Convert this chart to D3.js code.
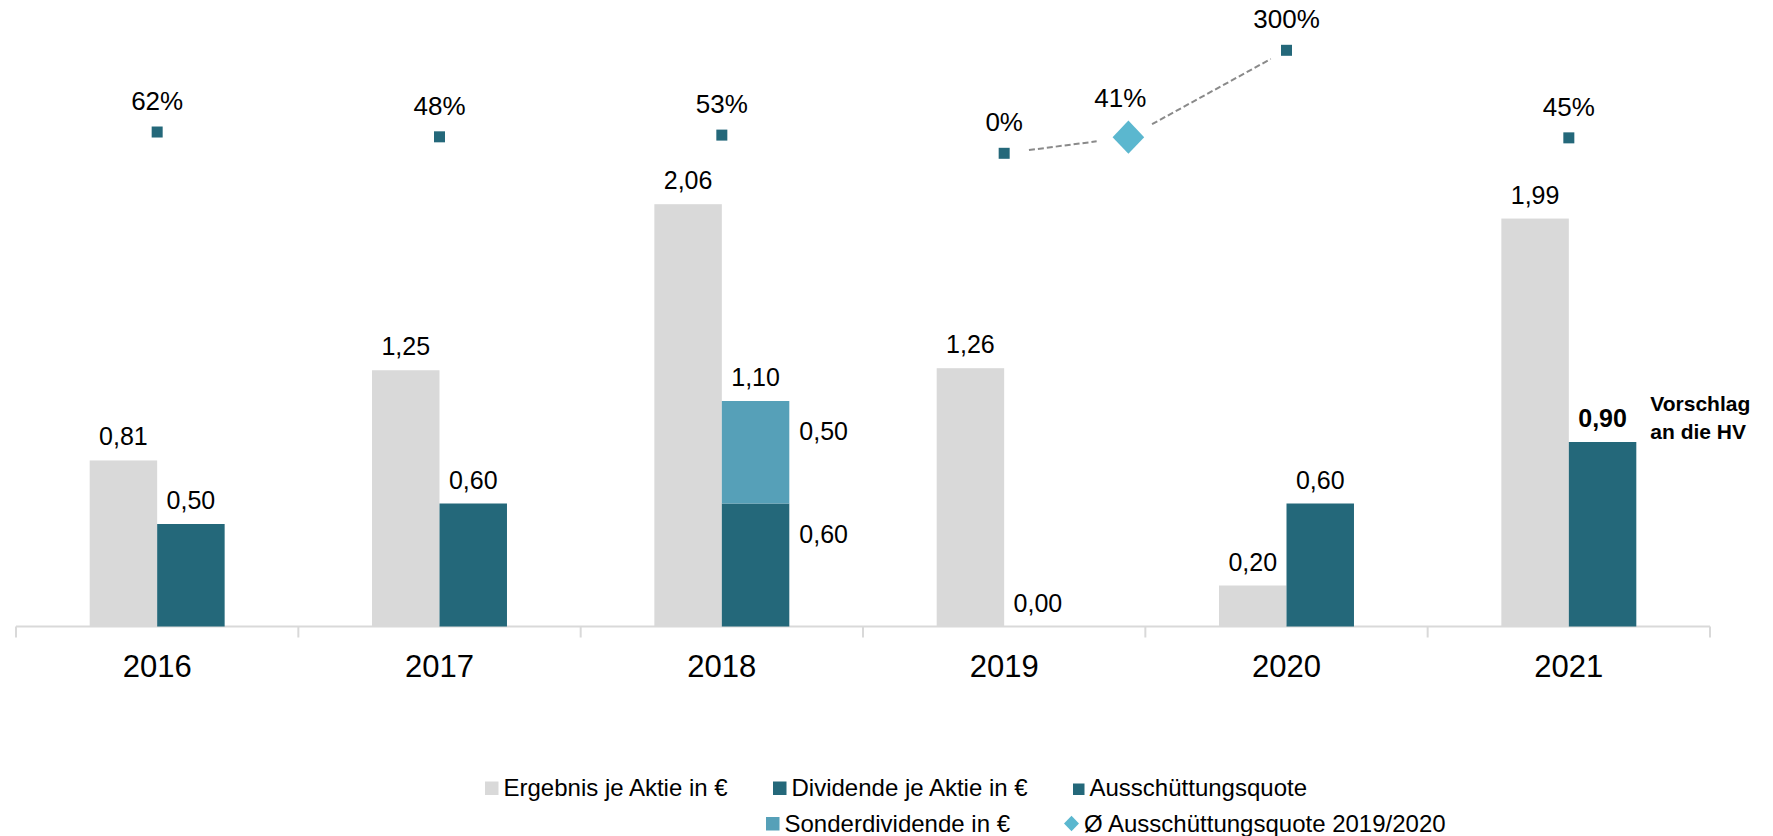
<!DOCTYPE html>
<html>
<head>
<meta charset="utf-8">
<script src="https://cdn.jsdelivr.net/npm/d3@7/dist/d3.min.js"></script>
<style>
  body { margin: 0; background: #fff; }
  svg { display: block; font-family: "Liberation Sans", Arial, sans-serif; }
</style>
</head>
<body>
<svg id="chart"></svg>
<script>
// Data
const years = ["2016", "2017", "2018", "2019", "2020", "2021"];
const ergebnis = [0.81, 1.25, 2.06, 1.26, 0.20, 1.99];
const dividende = [0.50, 0.60, 0.60, 0.00, 0.60, 0.90];
const sonderdividende = [0, 0, 0.50, 0, 0, 0];
const quote = [62, 48, 53, 0, 300, 45];
const avgQuote = 41;          // Ø Ausschüttungsquote 2019/2020
const avgQuoteIndex = 3.44;   // sits between 2019 and 2020

const width = 1773;
const height = 836;

const colGray = "#d9d9d9";
const colTeal = "#24687a";
const colSonder = "#56a0b8";
const colDiamond = "#5bb7cf";

const fmt = v => v.toFixed(2).replace(".", ",");

const svg = d3.select("#chart")
    .attr("width", width)
    .attr("height", height);

// scales
const x = d3.scaleBand().domain(years).range([16, 1710]).padding(0);
const xIdx = d3.scaleLinear().domain([0, years.length - 1])
    .range([x(years[0]) + x.bandwidth() / 2, x(years[5]) + x.bandwidth() / 2]);
const y = d3.scaleLinear().domain([0, 3]).range([626.5, 11.5]);
const yPct = d3.scaleLinear().domain([0, 300]).range([153.3, 50.3]);
const barW = x.bandwidth() * 0.239;
const cx = d => x(d) + x.bandwidth() / 2;

// axis: baseline with ticks between categories
const axisG = svg.append("g").attr("transform", `translate(0,${y(0)})`);
axisG.append("line")
    .attr("x1", x.range()[0]).attr("x2", x.range()[1])
    .attr("stroke", colGray).attr("stroke-width", 2);
const bounds = years.map(d => x(d)).concat([x.range()[1]]);
axisG.selectAll(".tk").data(bounds).enter().append("line")
    .attr("x1", d => d).attr("x2", d => d)
    .attr("y1", 0).attr("y2", 11)
    .attr("stroke", colGray).attr("stroke-width", 2);
axisG.selectAll(".yr").data(years).enter().append("text")
    .attr("x", d => cx(d)).attr("y", 50)
    .attr("text-anchor", "middle")
    .attr("font-size", 31).attr("fill", "#000")
    .text(d => d);

// Ergebnis bars
svg.selectAll(".erg").data(years).enter().append("rect")
    .attr("x", d => cx(d) - barW)
    .attr("y", (d, i) => y(ergebnis[i]))
    .attr("width", barW)
    .attr("height", (d, i) => y(0) - y(ergebnis[i]))
    .attr("fill", colGray);

// Dividende bars
svg.selectAll(".div").data(years).enter().append("rect")
    .attr("x", d => cx(d))
    .attr("y", (d, i) => y(dividende[i]))
    .attr("width", barW)
    .attr("height", (d, i) => y(0) - y(dividende[i]))
    .attr("fill", colTeal);

// Sonderdividende stacked on top
svg.selectAll(".son").data(years.filter((d, i) => sonderdividende[i] > 0)).enter().append("rect")
    .attr("x", d => cx(d))
    .attr("y", d => { const i = years.indexOf(d); return y(dividende[i] + sonderdividende[i]); })
    .attr("width", barW)
    .attr("height", d => { const i = years.indexOf(d); return y(dividende[i]) - y(dividende[i] + sonderdividende[i]); })
    .attr("fill", colSonder);

// value labels
svg.selectAll(".ergLbl").data(years).enter().append("text")
    .attr("x", d => cx(d) - barW / 2)
    .attr("y", (d, i) => y(ergebnis[i]) - 15)
    .attr("text-anchor", "middle").attr("font-size", 25)
    .text((d, i) => fmt(ergebnis[i]));

svg.selectAll(".divLbl").data(years).enter().append("text")
    .attr("x", d => cx(d) + barW / 2)
    .attr("y", (d, i) => y(dividende[i] + sonderdividende[i]) - 15)
    .attr("text-anchor", "middle").attr("font-size", 25)
    .attr("font-weight", (d, i) => i === years.length - 1 ? "bold" : null)
    .text((d, i) => fmt(dividende[i] + sonderdividende[i]));

// split labels for the 2018 stack, right of the bar
years.forEach((d, i) => {
    if (sonderdividende[i] <= 0) return;
    const parts = [
        { v: sonderdividende[i], top: dividende[i] + sonderdividende[i] },
        { v: dividende[i], top: dividende[i] }
    ];
    svg.selectAll(null).data(parts).enter().append("text")
        .attr("x", cx(d) + barW + 10)
        .attr("y", p => y(p.top) + 39)
        .attr("font-size", 25)
        .text(p => fmt(p.v));
});

// Vorschlag an die HV
const vor = svg.append("text")
    .attr("x", cx(years[5]) + barW + 14)
    .attr("y", y(dividende[5]) - 31)
    .attr("font-size", 21).attr("font-weight", "bold");
vor.append("tspan").text("Vorschlag");
vor.append("tspan").attr("x", cx(years[5]) + barW + 14).attr("dy", 27.5).text("an die HV");

// dashed connector 2019 -> Ø -> 2020
const p2019 = [cx("2019"), yPct(quote[3])];
const pAvg = [xIdx(avgQuoteIndex), yPct(avgQuote) - 2];
const p2020 = [cx("2020"), yPct(quote[4])];
function trimmed(a, b, ta, tb) {
    const dx = b[0] - a[0], dy = b[1] - a[1];
    const len = Math.hypot(dx, dy);
    return [[a[0] + dx * ta / len, a[1] + dy * ta / len],
            [b[0] - dx * tb / len, b[1] - dy * tb / len]];
}
const line = d3.line();
[trimmed(p2019, pAvg, 25, 32), trimmed(pAvg, p2020, 27, 18)].forEach(seg => {
    svg.append("path")
        .attr("d", line(seg))
        .attr("fill", "none")
        .attr("stroke", "#8a8a8a")
        .attr("stroke-width", 2)
        .attr("stroke-dasharray", "6,3");
});

// Ausschüttungsquote markers
svg.selectAll(".q").data(years).enter().append("rect")
    .attr("x", d => cx(d) - 5.5)
    .attr("y", (d, i) => yPct(quote[i]) - 5.5)
    .attr("width", 11).attr("height", 11)
    .attr("fill", colTeal);
svg.selectAll(".qLbl").data(years).enter().append("text")
    .attr("x", d => cx(d))
    .attr("y", (d, i) => yPct(quote[i]) - 22)
    .attr("text-anchor", "middle").attr("font-size", 26)
    .text((d, i) => quote[i] + "%");

// average diamond (square turned 45 degrees)
const rhombus = d3.symbol().type(d3.symbolSquare).size(500);
svg.append("path")
    .attr("d", rhombus())
    .attr("transform", `translate(${pAvg[0]},${pAvg[1]}) scale(1,1.05) rotate(45)`)
    .attr("fill", colDiamond);
svg.append("text")
    .attr("x", pAvg[0] - 8).attr("y", pAvg[1] - 30)
    .attr("text-anchor", "middle").attr("font-size", 26)
    .text(avgQuote + "%");

// legend
const legendItems = [
    { label: "Ergebnis je Aktie in €", color: colGray, shape: "sq", size: 13.5, x: 485, row: 0 },
    { label: "Dividende je Aktie in €", color: colTeal, shape: "sq", size: 13.5, x: 773, row: 0 },
    { label: "Ausschüttungsquote", color: colTeal, shape: "sq", size: 11.5, x: 1073, row: 0 },
    { label: "Sonderdividende in €", color: colSonder, shape: "sq", size: 13.5, x: 766, row: 1 },
    { label: "Ø Ausschüttungsquote 2019/2020", color: colDiamond, shape: "di", size: 15, x: 1064, row: 1 }
];
const rowBase = [796, 831.5];
const lg = svg.selectAll(".lg").data(legendItems).enter().append("g")
    .attr("transform", d => `translate(${d.x},${rowBase[d.row]})`);
lg.filter(d => d.shape === "sq").append("rect")
    .attr("x", 0).attr("y", d => -d.size - 1)
    .attr("width", d => d.size).attr("height", d => d.size)
    .attr("fill", d => d.color);
lg.filter(d => d.shape === "di").append("path")
    .attr("d", d3.symbol().type(d3.symbolSquare).size(112)())
    .attr("transform", "translate(7.5,-8) scale(1,1.05) rotate(45)")
    .attr("fill", d => d.color);
lg.append("text")
    .attr("x", d => d.size + 5)
    .attr("y", 0)
    .attr("font-size", 24)
    .text(d => d.label);
</script>
</body>
</html>
